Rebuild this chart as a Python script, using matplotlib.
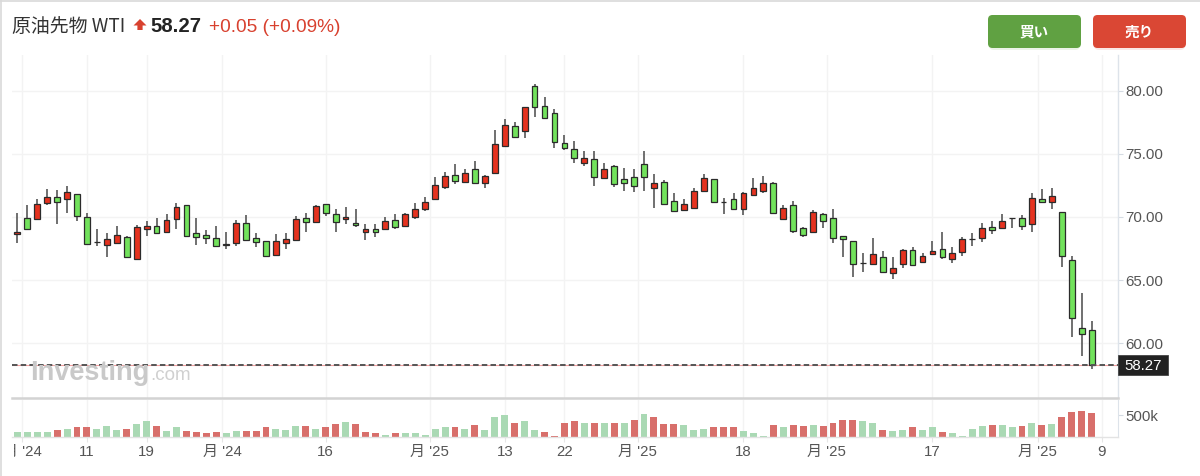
import matplotlib
matplotlib.use('Agg')
import matplotlib.pyplot as plt
from matplotlib.patches import FancyBboxPatch, Rectangle, Polygon
from matplotlib.lines import Line2D
from matplotlib.transforms import Bbox, TransformedBbox
import numpy as np

plt.rcParams['font.family'] = ['Liberation Sans', 'Noto Sans CJK JP', 'DejaVu Sans']
plt.rcParams['lines.scale_dashes'] = False

# ---------------- data ----------------
title_name = "原油先物 WTI"
last_price = 58.27
change_text = "+0.05 (+0.09%)"
buy_label = "買い"
sell_label = "売り"

opens = [68.65, 69.95, 69.82, 71.08, 71.61, 71.40, 71.80, 70.03, 67.98, 67.78,
         67.96, 68.44, 66.69, 69.07, 69.29, 68.78, 69.82, 70.95, 68.70, 68.55,
         68.36, 67.81, 67.91, 69.55, 68.36, 68.10, 66.96, 67.91, 68.18, 69.95,
         69.63, 71.03, 70.21, 69.84, 69.55, 68.81, 69.02, 69.02, 69.76, 69.29,
         70.03, 70.64, 71.40, 72.41, 73.36, 72.78, 73.81, 72.67, 73.52, 75.66,
         77.22, 76.85, 80.40, 78.81, 78.28, 75.85, 75.40, 74.26, 74.58, 73.12,
         74.05, 72.99, 73.15, 74.21, 72.33, 72.80, 71.27, 70.56, 70.69, 72.09,
         72.99, 71.18, 71.40, 70.63, 71.75, 72.09, 72.67, 69.81, 70.95, 69.10,
         68.78, 70.24, 69.95, 68.49, 68.10, 66.36, 66.27, 66.80, 65.58, 66.27,
         67.38, 66.46, 67.06, 67.43, 66.67, 67.25, 68.24, 68.36, 69.23, 69.15,
         69.93, 69.95, 69.44, 71.40, 71.22, 70.42, 66.59, 61.16, 61.03]
highs = [70.34, 70.95, 71.40, 72.22, 72.14, 72.46, 71.80, 70.34, 69.02, 68.76,
         69.29, 68.49, 69.37, 69.71, 69.89, 70.24, 71.08, 70.95, 69.95, 68.97,
         69.29, 68.84, 69.76, 70.16, 68.76, 68.10, 68.65, 68.76, 70.08, 70.34,
         70.95, 71.03, 70.61, 70.82, 70.61, 69.42, 69.44, 69.97, 70.24, 70.29,
         71.09, 71.56, 73.15, 73.60, 74.21, 73.78, 74.47, 73.33, 76.91, 77.75,
         77.57, 78.70, 80.56, 79.50, 78.55, 76.51, 76.03, 75.24, 75.24, 74.31,
         74.13, 73.86, 73.81, 75.24, 73.41, 72.94, 71.93, 71.43, 72.28, 73.41,
         72.99, 71.53, 71.88, 72.01, 73.12, 73.28, 72.80, 70.95, 71.27, 69.23,
         70.56, 70.34, 70.61, 68.49, 68.10, 67.12, 68.31, 67.30, 66.80, 67.43,
         67.65, 67.17, 68.10, 68.78, 67.65, 68.44, 68.70, 69.50, 69.68, 70.24,
         69.95, 70.16, 71.88, 72.20, 72.27, 70.42, 66.91, 63.94, 61.75]
lows = [67.96, 68.97, 69.76, 70.95, 69.44, 70.34, 69.71, 67.86, 67.70, 66.85,
        67.91, 66.80, 66.59, 68.49, 68.65, 68.70, 69.02, 68.44, 67.75, 67.86,
        67.65, 67.46, 67.70, 68.12, 67.65, 66.80, 66.90, 67.49, 68.12, 68.78,
        69.55, 70.08, 68.84, 69.44, 69.23, 68.18, 68.39, 68.97, 69.02, 69.23,
        69.81, 70.50, 71.40, 72.20, 72.59, 72.73, 72.62, 72.28, 73.41, 75.64,
        76.32, 76.24, 77.91, 77.83, 75.50, 75.32, 74.26, 74.05, 72.49, 73.02,
        72.36, 72.09, 72.01, 72.09, 70.69, 70.95, 70.42, 70.50, 70.61, 72.01,
        71.14, 70.24, 70.56, 70.16, 71.69, 71.88, 70.24, 69.76, 68.70, 68.39,
        68.70, 69.10, 67.91, 66.80, 65.26, 65.66, 66.19, 65.53, 65.08, 65.93,
        66.11, 66.38, 66.99, 66.67, 66.32, 66.93, 67.70, 68.04, 68.62, 69.10,
        69.15, 68.97, 68.84, 71.14, 70.64, 66.01, 60.50, 58.97, 57.91]
closes = [68.84, 69.05, 71.03, 71.61, 71.19, 71.96, 70.11, 67.86, 68.02, 68.25,
          68.55, 66.85, 69.18, 69.29, 68.70, 69.76, 70.77, 68.49, 68.44, 68.33,
          67.70, 67.83, 69.55, 68.17, 67.99, 66.93, 68.10, 68.25, 69.81, 69.63,
          70.87, 70.29, 69.63, 70.03, 69.34, 69.02, 68.78, 69.68, 69.18, 70.21,
          70.61, 71.22, 72.51, 73.25, 72.88, 73.52, 72.67, 73.25, 75.77, 77.30,
          76.38, 78.70, 78.70, 77.88, 75.93, 75.45, 74.65, 74.68, 73.15, 73.81,
          72.59, 72.67, 72.49, 73.15, 72.73, 71.03, 70.50, 71.03, 72.06, 73.07,
          71.22, 71.16, 70.63, 71.93, 72.28, 72.67, 70.34, 70.69, 68.89, 68.57,
          70.42, 69.71, 68.31, 68.23, 66.24, 66.38, 67.06, 65.66, 65.98, 67.38,
          66.19, 66.91, 67.33, 66.85, 67.17, 68.25, 68.26, 69.10, 68.97, 69.68,
          69.95, 69.31, 71.54, 71.22, 71.69, 66.93, 61.96, 60.69, 58.27]
volumes_k = [115, 115, 115, 115, 169, 192, 223, 223, 192, 246,
             169, 192, 300, 362, 246, 146, 223, 146, 115, 85,
             115, 85, 146, 146, 146, 223, 192, 169, 246, 246,
             192, 223, 285, 331, 300, 115, 85, 38, 85, 85,
             85, 54, 192, 223, 223, 192, 269, 169, 462, 492,
             323, 362, 169, 115, 31, 323, 362, 323, 323, 323,
             323, 323, 385, 515, 462, 300, 300, 269, 169, 192,
             223, 223, 223, 146, 85, 31, 269, 223, 269, 246,
             269, 246, 323, 385, 385, 362, 323, 169, 146, 169,
             223, 169, 223, 115, 85, 31, 192, 246, 269, 269,
             223, 246, 323, 269, 300, 462, 569, 592, 538]

tick_pos = [0.47, 7, 13, 20.58, 31, 41.48, 49, 55, 62.39, 73, 81.39, 92, 102.6, 109]
tick_labels = ["月 '24", "11", "19", "月 '24", "16", "月 '25", "13", "22",
               "月 '25", "18", "月 '25", "17", "月 '25", "9"]
price_ticks = [60, 65, 70, 75, 80]
volume_ticks = [500]
volume_tick_labels = ["500k"]

# ---------------- figure ----------------
W, H = 1200, 476
fig = plt.figure(figsize=(W / 100, H / 100), dpi=100)
fig.patch.set_facecolor('white')
inch = fig.dpi_scale_trans


def fr(x0, y0, x1, y1):
    return [x0 / W, 1 - y1 / H, (x1 - x0) / W, (y1 - y0) / H]


def P(x, y):
    return (x / 100.0, (H - y) / 100.0)


def T(x, y, s, **kw):
    return fig.text(x / 100.0, (H - y) / 100.0, s, transform=inch, **kw)


ax = fig.add_axes(fr(12, 55, 1118, 398))
axv = fig.add_axes(fr(12, 400, 1118, 437))

xs = np.arange(len(closes))
o = np.array(opens); c = np.array(closes)
hi = np.array(highs); lo = np.array(lows)

UP_BODY = '#e5321f'
DN_BODY = '#72e25c'
VOL_UP = '#aad9b4'
VOL_DN = '#d86f6b'

body_col = [UP_BODY if c[i] >= o[i] else DN_BODY for i in xs]
body_bot = np.minimum(o, c)
body_h = np.maximum(np.abs(c - o), 0.02)

ax.vlines(xs, lo, hi, colors='#505050', linewidth=1.15, zorder=2)
ax.bar(xs, body_h, bottom=body_bot, width=0.58, color=body_col,
       edgecolor='#2b2b2b', linewidth=0.9, zorder=3)

xlim = (-0.533, 110.65)
ax.set_xlim(*xlim)
ax.set_ylim(55.635, 82.857)

# last price line
ax.axhline(last_price, color='#f3a0a0', linewidth=0.8, zorder=1)
ax.axhline(last_price, color='#555555', linewidth=1.4, dashes=(5.5 * 0.72, 3.2 * 0.72), zorder=4)

ax.set_xticks(tick_pos)
ax.set_xticklabels([])
ax.tick_params(axis='x', length=0)
ax.set_yticks(price_ticks)
ax.set_yticklabels(['%.2f' % v for v in price_ticks])
ax.yaxis.tick_right()
ax.tick_params(axis='y', right=True, left=False, labelright=True, labelleft=False,
               length=3.6, width=0.8, color='#d5dbe3', pad=1.6, labelsize=10.8,
               labelcolor='#555555')
ax.grid(True, color='#f3f3f3', linewidth=1.0, zorder=0)
ax.set_axisbelow(True)
for s in ['top', 'left']:
    ax.spines[s].set_visible(False)
ax.spines['right'].set_color('#dde3ea')
ax.spines['right'].set_linewidth(1.0)
ax.spines['bottom'].set_color('#d3d3d3')
ax.spines['bottom'].set_linewidth(1.8)

# volume
vol_col = []
for i in xs:
    prev = c[i - 1] if i > 0 else o[i]
    vol_col.append(VOL_UP if c[i] >= prev else VOL_DN)
axv.bar(xs, volumes_k, width=0.7, color=vol_col, zorder=2)
axv.set_xlim(*xlim)
axv.set_ylim(0, 841)
axv.set_xticks(tick_pos)
axv.set_xticklabels([''] + tick_labels[1:])
axv.tick_params(axis='x', length=3.6, width=0.8, color='#e6e6e6', pad=2.2,
                labelsize=10.8, labelcolor='#555555')
axv.set_yticks(volume_ticks)
axv.set_yticklabels(volume_tick_labels)
axv.yaxis.tick_right()
axv.tick_params(axis='y', right=True, left=False, labelright=True, labelleft=False,
                length=3.6, width=0.8, color='#d5dbe3', pad=1.6, labelsize=10.8,
                labelcolor='#555555')
axv.grid(True, axis='x', color='#f3f3f3', linewidth=1.0, zorder=0)
axv.set_axisbelow(True)
for s in ['top', 'left']:
    axv.spines[s].set_visible(False)
axv.spines['right'].set_color('#dde3ea')
axv.spines['bottom'].set_color('#e3e3e3')
axv.spines['bottom'].set_linewidth(1.0)

# clipped first x label
t0 = T(22, 445, tick_labels[0], ha='center', va='top', fontsize=10.8, color='#555555')
t0.set_clip_on(True)
t0.set_clip_box(TransformedBbox(Bbox([[0.145, 0], [12, 4.76]]), inch))

# last price box
fig.add_artist(Rectangle(P(1118, 375), 50 / 100, 20 / 100, transform=inch,
                         facecolor='#222222', edgecolor='#444444', linewidth=0.6))
T(1143, 365.5, '%.2f' % last_price, ha='center', va='center', fontsize=10.8, color='white')

# watermark
T(30, 380, 'Investing', fontsize=19.5, fontweight='bold', color='#c9c9c9', va='baseline', zorder=0)
T(150, 380, '.com', fontsize=13.5, color='#d0d0d0', va='baseline')

# header
T(12.5, 31.5, title_name, family=['Noto Sans CJK JP'], fontsize=13.6, color='#333333', va='baseline')
fig.add_artist(Polygon([P(133.5, 25.5), P(140, 19), P(146.5, 25.5), P(142.6, 25.5),
                        P(142.6, 30), P(137.4, 30), P(137.4, 25.5)],
                       closed=True, transform=inch, facecolor='#d8412f', edgecolor='none'))
T(150, 31.5, '%.2f' % last_price, fontsize=14.7, fontweight='bold', color='#232323', va='baseline')
T(209, 31.5, change_text, fontsize=13.8, color='#d8412f', va='baseline')

# buttons
for (x0, x1, col, lab) in [(988, 1081, '#60a142', buy_label), (1093, 1186, '#da4734', sell_label)]:
    sh = FancyBboxPatch(P(x0 + 1, 50), (x1 - x0 - 2) / 100, 34 / 100,
                        boxstyle='round,pad=0,rounding_size=0.05', transform=inch,
                        facecolor=col, edgecolor='none', alpha=0.12)
    fig.add_artist(sh)
    b = FancyBboxPatch(P(x0, 48), (x1 - x0) / 100, 33 / 100,
                       boxstyle='round,pad=0,rounding_size=0.045', transform=inch,
                       facecolor=col, edgecolor='none')
    fig.add_artist(b)
    T((x0 + x1) / 2, 31.5, lab, family=['Noto Sans CJK JP'], fontsize=10.5,
      fontweight='bold', color='white', ha='center', va='center')

# frame edges
fig.add_artist(Line2D([0, 1], [1 - 1 / H, 1 - 1 / H], color='#d9d9d9', linewidth=1.2))
fig.add_artist(Line2D([1 / W, 1 / W], [0, 1], color='#d9d9d9', linewidth=1.2))

fig.savefig('out.png', dpi=100, facecolor='white')
